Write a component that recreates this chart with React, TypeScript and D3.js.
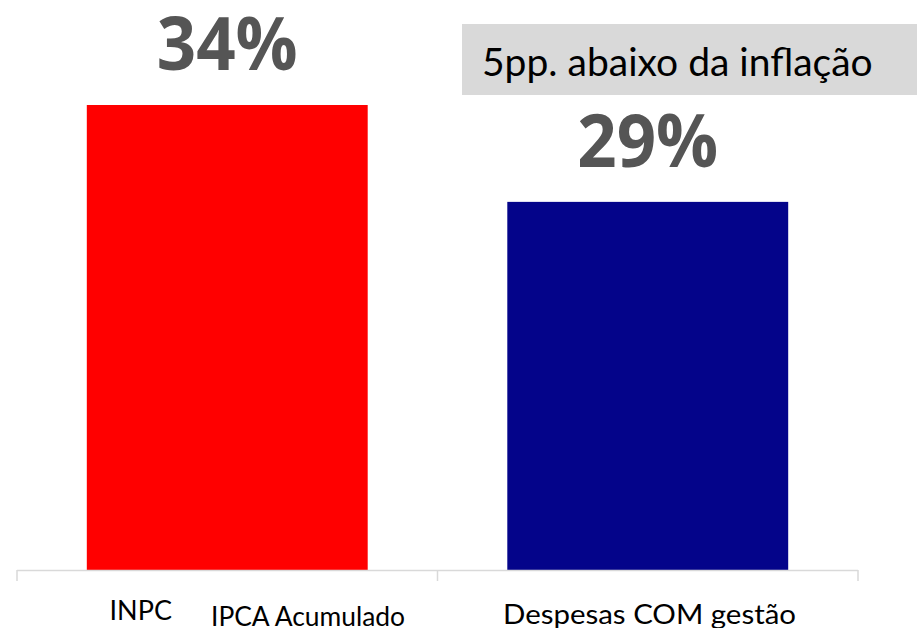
import React from 'react';
import * as d3 from 'd3';

const categories = ['IPCA Acumulado', 'Despesas COM gestão'];
const values = [34, 29];
const valueLabels = ['34%', '29%'];
const barColors = ['#FF0000', '#04048A'];
const overlapLabel = 'INPC';
const note = '5pp. abaixo da inflação';

const W = 917, H = 628;
const font = 'Lato, "Open Sans", sans-serif';
const labelFont = '"Open Sans", Lato, sans-serif';

const App = () => {
  const x = d3.scaleBand().domain(categories).range([17, 858]).paddingInner(0.332).paddingOuter(0.166);
  const y = d3.scaleLinear().domain([10, 34]).range([570, 105]);
  const step = x.step();
  const bounds = [17, 17 + step, 17 + 2 * step];

  return (
    <svg width={W} height={H} style={{ position: 'absolute', left: 0, top: 0, background: '#fff' }}>
      {/* note box */}
      <rect x={462} y={24} width={W - 462} height={71} fill="#D9D9D9" />
      <text x={482} y={76} fontFamily={font} fontSize={39} fill="#000">{note}</text>

      {categories.map((c, i) => (
        <g key={c}>
          <rect x={x(c)} y={y(values[i])} width={x.bandwidth()} height={570 - y(values[i])} fill={barColors[i]} />
          <text x={x(c)! + x.bandwidth() / 2} y={y(values[i]) - 35} textAnchor="middle"
            fontFamily={labelFont} fontWeight="bold" fontSize={73} textLength={141} lengthAdjust="spacingAndGlyphs"
            fill="#555">{valueLabels[i]}</text>
        </g>
      ))}

      {/* axis */}
      <line x1={bounds[0]} x2={bounds[2]} y1={570.5} y2={570.5} stroke="#D9D9D9" strokeWidth={1.5} />
      {bounds.map((b, i) => (
        <line key={i} x1={b} x2={b} y1={570} y2={581} stroke="#D9D9D9" strokeWidth={1.5} />
      ))}

      {/* category labels */}
      <text x={172} y={620} textAnchor="end" fontFamily={font} fontSize={27} fill="#000">{overlapLabel}</text>
      <text x={211} y={626} fontFamily={font} fontSize={27} textLength={194} lengthAdjust="spacingAndGlyphs" fill="#000">{categories[0]}</text>
      <text x={503} y={624} fontFamily={font} fontSize={27} textLength={293} lengthAdjust="spacingAndGlyphs" fill="#000">{categories[1]}</text>
    </svg>
  );
};

export default App;
